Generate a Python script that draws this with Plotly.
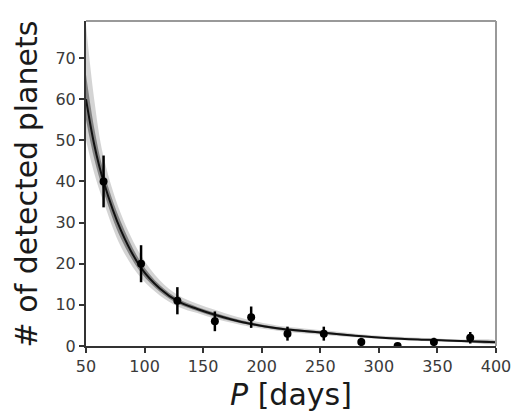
import plotly.graph_objects as go

# Binned detections (period in days, counts, Poisson errors)
bin_period = [65, 97, 128, 160, 191, 222, 253, 285, 316, 347, 378]
bin_count = [40, 20, 11, 6, 7, 3, 3, 1, 0, 1, 2]
bin_err = [6.3, 4.5, 3.3, 2.4, 2.6, 1.7, 1.7, 1.0, 0.0, 1.0, 1.4]

# Model curve (median) and credible bands
curve_period = [50, 57, 65, 80, 97, 113, 129, 145, 160, 175, 190, 213, 222, 253, 280, 309, 343, 370, 400]
curve_med = [60, 49, 40, 28, 19, 14, 10.8, 9.0, 7.6, 6.4, 5.4, 4.3, 4.0, 3.2, 2.5, 1.9, 1.5, 1.2, 0.9]
inner_lo = [55, 45.5, 37.5, 26, 17.8, 13.2, 10.2, 8.5, 7.1, 6.0, 5.1, 4.0, 3.7, 2.95, 2.3, 1.75, 1.35, 1.05, 0.8]
inner_hi = [66, 53, 42.5, 30, 20.3, 14.8, 11.4, 9.5, 8.1, 6.8, 5.8, 4.6, 4.3, 3.45, 2.7, 2.1, 1.65, 1.35, 1.05]
outer_lo = [50, 42, 35, 24, 16.5, 12.3, 9.5, 8.0, 6.6, 5.6, 4.7, 3.7, 3.4, 2.7, 2.1, 1.55, 1.15, 0.9, 0.65]
outer_hi = [78, 60, 46, 32, 22, 16, 12.3, 10.3, 8.8, 7.4, 6.3, 5.0, 4.7, 3.8, 3.0, 2.35, 1.9, 1.6, 1.3]

x_ticks = [50, 100, 150, 200, 250, 300, 350, 400]
y_ticks = [0, 10, 20, 30, 40, 50, 60, 70]

fig = go.Figure()

def band(lo, hi, color):
    fig.add_trace(go.Scatter(
        x=curve_period + curve_period[::-1], y=hi + lo[::-1],
        fill="toself", fillcolor=color, line=dict(width=0, shape="spline"),
        mode="lines", hoverinfo="skip", showlegend=False))

band(outer_lo, outer_hi, "rgba(0,0,0,0.17)")
band(inner_lo, inner_hi, "rgba(0,0,0,0.38)")

fig.add_trace(go.Scatter(x=curve_period, y=curve_med, mode="lines",
                         line=dict(color="#111111", width=2, shape="spline"),
                         showlegend=False))

fig.add_trace(go.Scatter(
    x=bin_period, y=bin_count, mode="markers",
    marker=dict(color="black", size=8),
    error_y=dict(type="data", array=bin_err, visible=True, color="black", thickness=2.5, width=0),
    showlegend=False))

tickfont = dict(family="DejaVu Sans", size=16, color="#3a3a3a")
fig.update_xaxes(range=[50, 400], tickvals=x_ticks, ticks="outside", ticklen=5, tickwidth=1.5,
                 tickcolor="#333333", showline=True, linecolor="#333333", linewidth=2,
                 showgrid=False, zeroline=False, tickfont=tickfont)
fig.update_yaxes(range=[0, 79], tickvals=y_ticks, ticks="outside", ticklen=5, tickwidth=1.5,
                 tickcolor="#333333", showline=True, linecolor="#333333", linewidth=2,
                 showgrid=False, zeroline=False, tickfont=tickfont)

fig.add_shape(type="line", xref="paper", yref="paper", x0=0, x1=1, y0=1, y1=1,
              line=dict(color="#999999", width=2))
fig.add_shape(type="line", xref="paper", yref="paper", x0=1, x1=1, y0=0, y1=1,
              line=dict(color="#999999", width=2))

fig.add_annotation(text="<i>P</i> [days]", xref="paper", yref="paper", x=0.5, y=-0.15,
                   xanchor="center", yanchor="middle", showarrow=False,
                   font=dict(family="DejaVu Sans", size=30, color="#1a1a1a"))
fig.add_annotation(text="# of detected planets", xref="paper", yref="paper", x=-0.144, y=0.5,
                   xanchor="center", yanchor="middle", textangle=-90, showarrow=False,
                   font=dict(family="DejaVu Sans", size=30, color="#1a1a1a"))

fig.update_layout(width=523, height=414, margin=dict(l=86, r=21, t=21, b=68),
                  plot_bgcolor="white", paper_bgcolor="white")

fig.write_html("out.html")
